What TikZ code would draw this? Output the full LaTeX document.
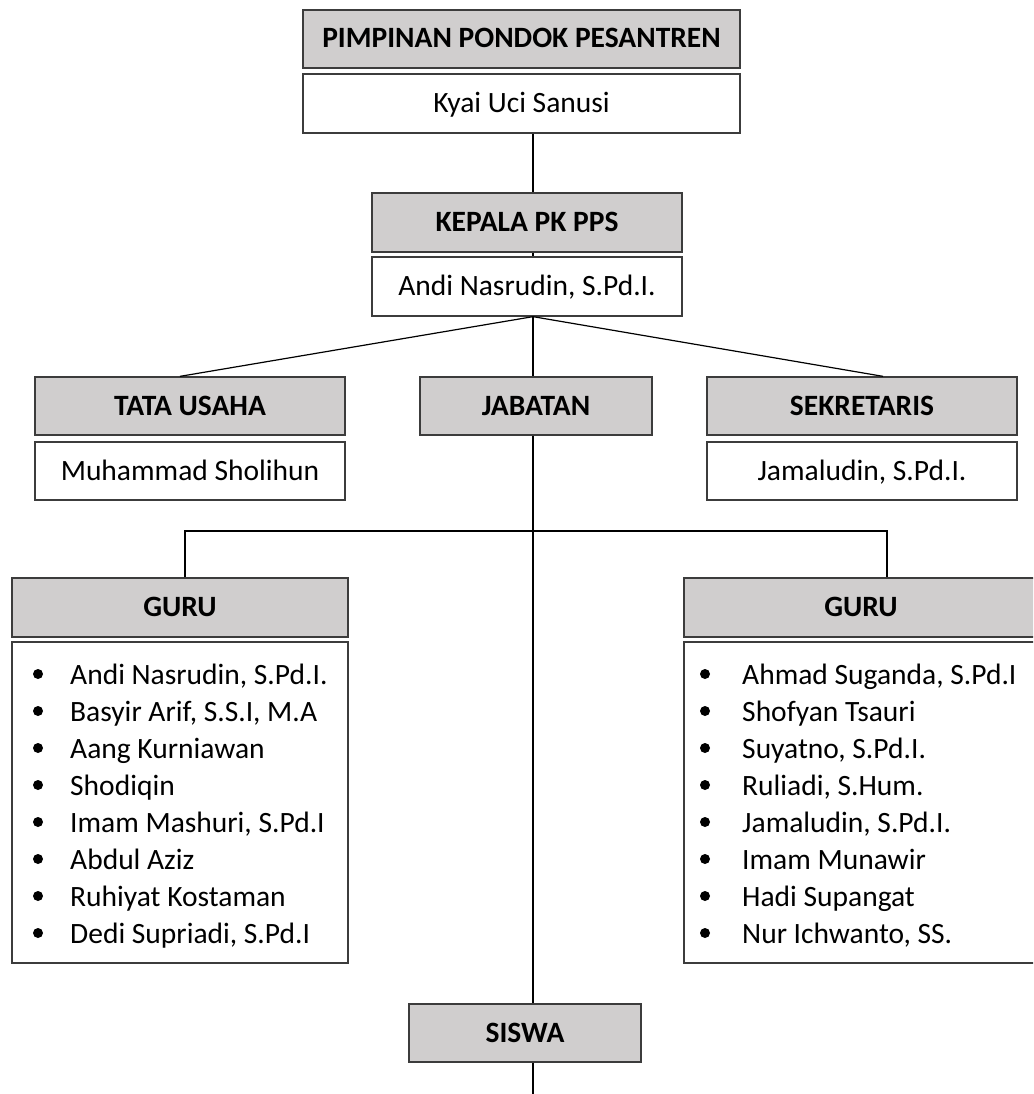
\documentclass[tikz,border=0pt]{standalone}
\usepackage{fontspec}
\setmainfont{Carlito}
\definecolor{boxgray}{RGB}{208,206,206}
\definecolor{boxline}{RGB}{60,60,60}
\begin{document}
\begin{tikzpicture}[x=1pt,y=-1pt]
    \tikzset{chartbox/.style={draw=boxline, line width=1.3pt, inner sep=0pt, text height=21.5pt, text depth=3.5pt, font=\fontsize{29.5}{35}\selectfont},
      headbox/.style={chartbox, fill=boxgray, font=\fontsize{29.5}{35}\selectfont\bfseries},
      namebox/.style={chartbox, fill=white},
      listitem/.style={inner sep=0pt, anchor=base west, font=\fontsize{29.5}{35}\selectfont},
      listdot/.style={circle, fill=black, minimum size=10pt, inner sep=0pt},
      link/.style={line width=1.2pt}}
    \clip (0,0) rectangle (1033,1094);
    % top of the chart
    \node[headbox, minimum width=437, minimum height=58] (pimp) at (521.5,39) {PIMPINAN PONDOK PESANTREN};
    \node[namebox, minimum width=437, minimum height=59] (kyai) at (521.5,103.5) {Kyai Uci Sanusi};
    \node[headbox, minimum width=310, minimum height=59] (kepala) at (527,222.5) {KEPALA PK PPS};
    \node[namebox, minimum width=310, minimum height=59] (andi) at (527,286.5) {Andi Nasrudin, S.Pd.I.};
    % second row
    \node[headbox, minimum width=310, minimum height=58] (tata) at (190,406) {TATA USAHA};
    \node[namebox, minimum width=310, minimum height=58] (muh) at (190,471) {Muhammad Sholihun};
    \node[headbox, minimum width=232, minimum height=58] (jab) at (536,406) {JABATAN};
    \node[headbox, minimum width=310, minimum height=58] (sek) at (862,406) {SEKRETARIS};
    \node[namebox, minimum width=310, minimum height=58] (jam) at (862,471) {Jamaludin, S.Pd.I.};
    % teachers
    \node[headbox, minimum width=336, minimum height=59] (guru1) at (180,607.5) {GURU};
    \node[namebox, minimum width=336, minimum height=321] (list1) at (180,802.5) {};
    \node[headbox, minimum width=354, minimum height=59] (guru2) at (861,607.5) {GURU};
    \node[namebox, minimum width=354, minimum height=321] (list2) at (861,802.5) {};
    \foreach \nm [count=\i] in {{Andi Nasrudin, S.Pd.I.},{Basyir Arif, S.S.I, M.A},{Aang Kurniawan},{Shodiqin},{Imam Mashuri, S.Pd.I},{Abdul Aziz},{Ruhiyat Kostaman},{Dedi Supriadi, S.Pd.I}} {
        \node[listdot] (la\i) at (38,{674+37*(\i-1)}) {};
        \node[listitem] (lt\i) at (70,{684+37*(\i-1)}) {\nm};
    }
    \foreach \nm [count=\i] in {{Ahmad Suganda, S.Pd.I},{Shofyan Tsauri},{Suyatno, S.Pd.I.},{Ruliadi, S.Hum.},{Jamaludin, S.Pd.I.},{Imam Munawir},{Hadi Supangat},{Nur Ichwanto, SS.}} {
        \node[listdot] (ra\i) at (705,{674+37*(\i-1)}) {};
        \node[listitem] (rt\i) at (742,{684+37*(\i-1)}) {\nm};
    }
    \node[headbox, minimum width=232, minimum height=58] (siswa) at (525,1033) {SISWA};
    % connectors
    \coordinate (spine) at (533,0);
    \coordinate (bar) at (533,531);
    \coordinate (tail) at (533,1094);
    \draw[link] (kyai.south -| spine) -- (kepala.north -| spine);
    \draw[link] (kepala.south -| spine) -- (andi.north -| spine);
    \draw[link] (andi.south -| spine) -- ([xshift=-10pt]tata.north);
    \draw[link] (andi.south -| spine) -- (jab.north -| spine);
    \draw[link] (andi.south -| spine) -- ([xshift=21pt]sek.north);
    \draw[link] (jab.south -| spine) -- (siswa.north -| spine);
    \draw[link] ([xshift=5pt]guru1.north) |- (bar) -| ([xshift=26pt]guru2.north);
    \draw[link] (siswa.south -| spine) -- (tail);
\end{tikzpicture}
\end{document}
